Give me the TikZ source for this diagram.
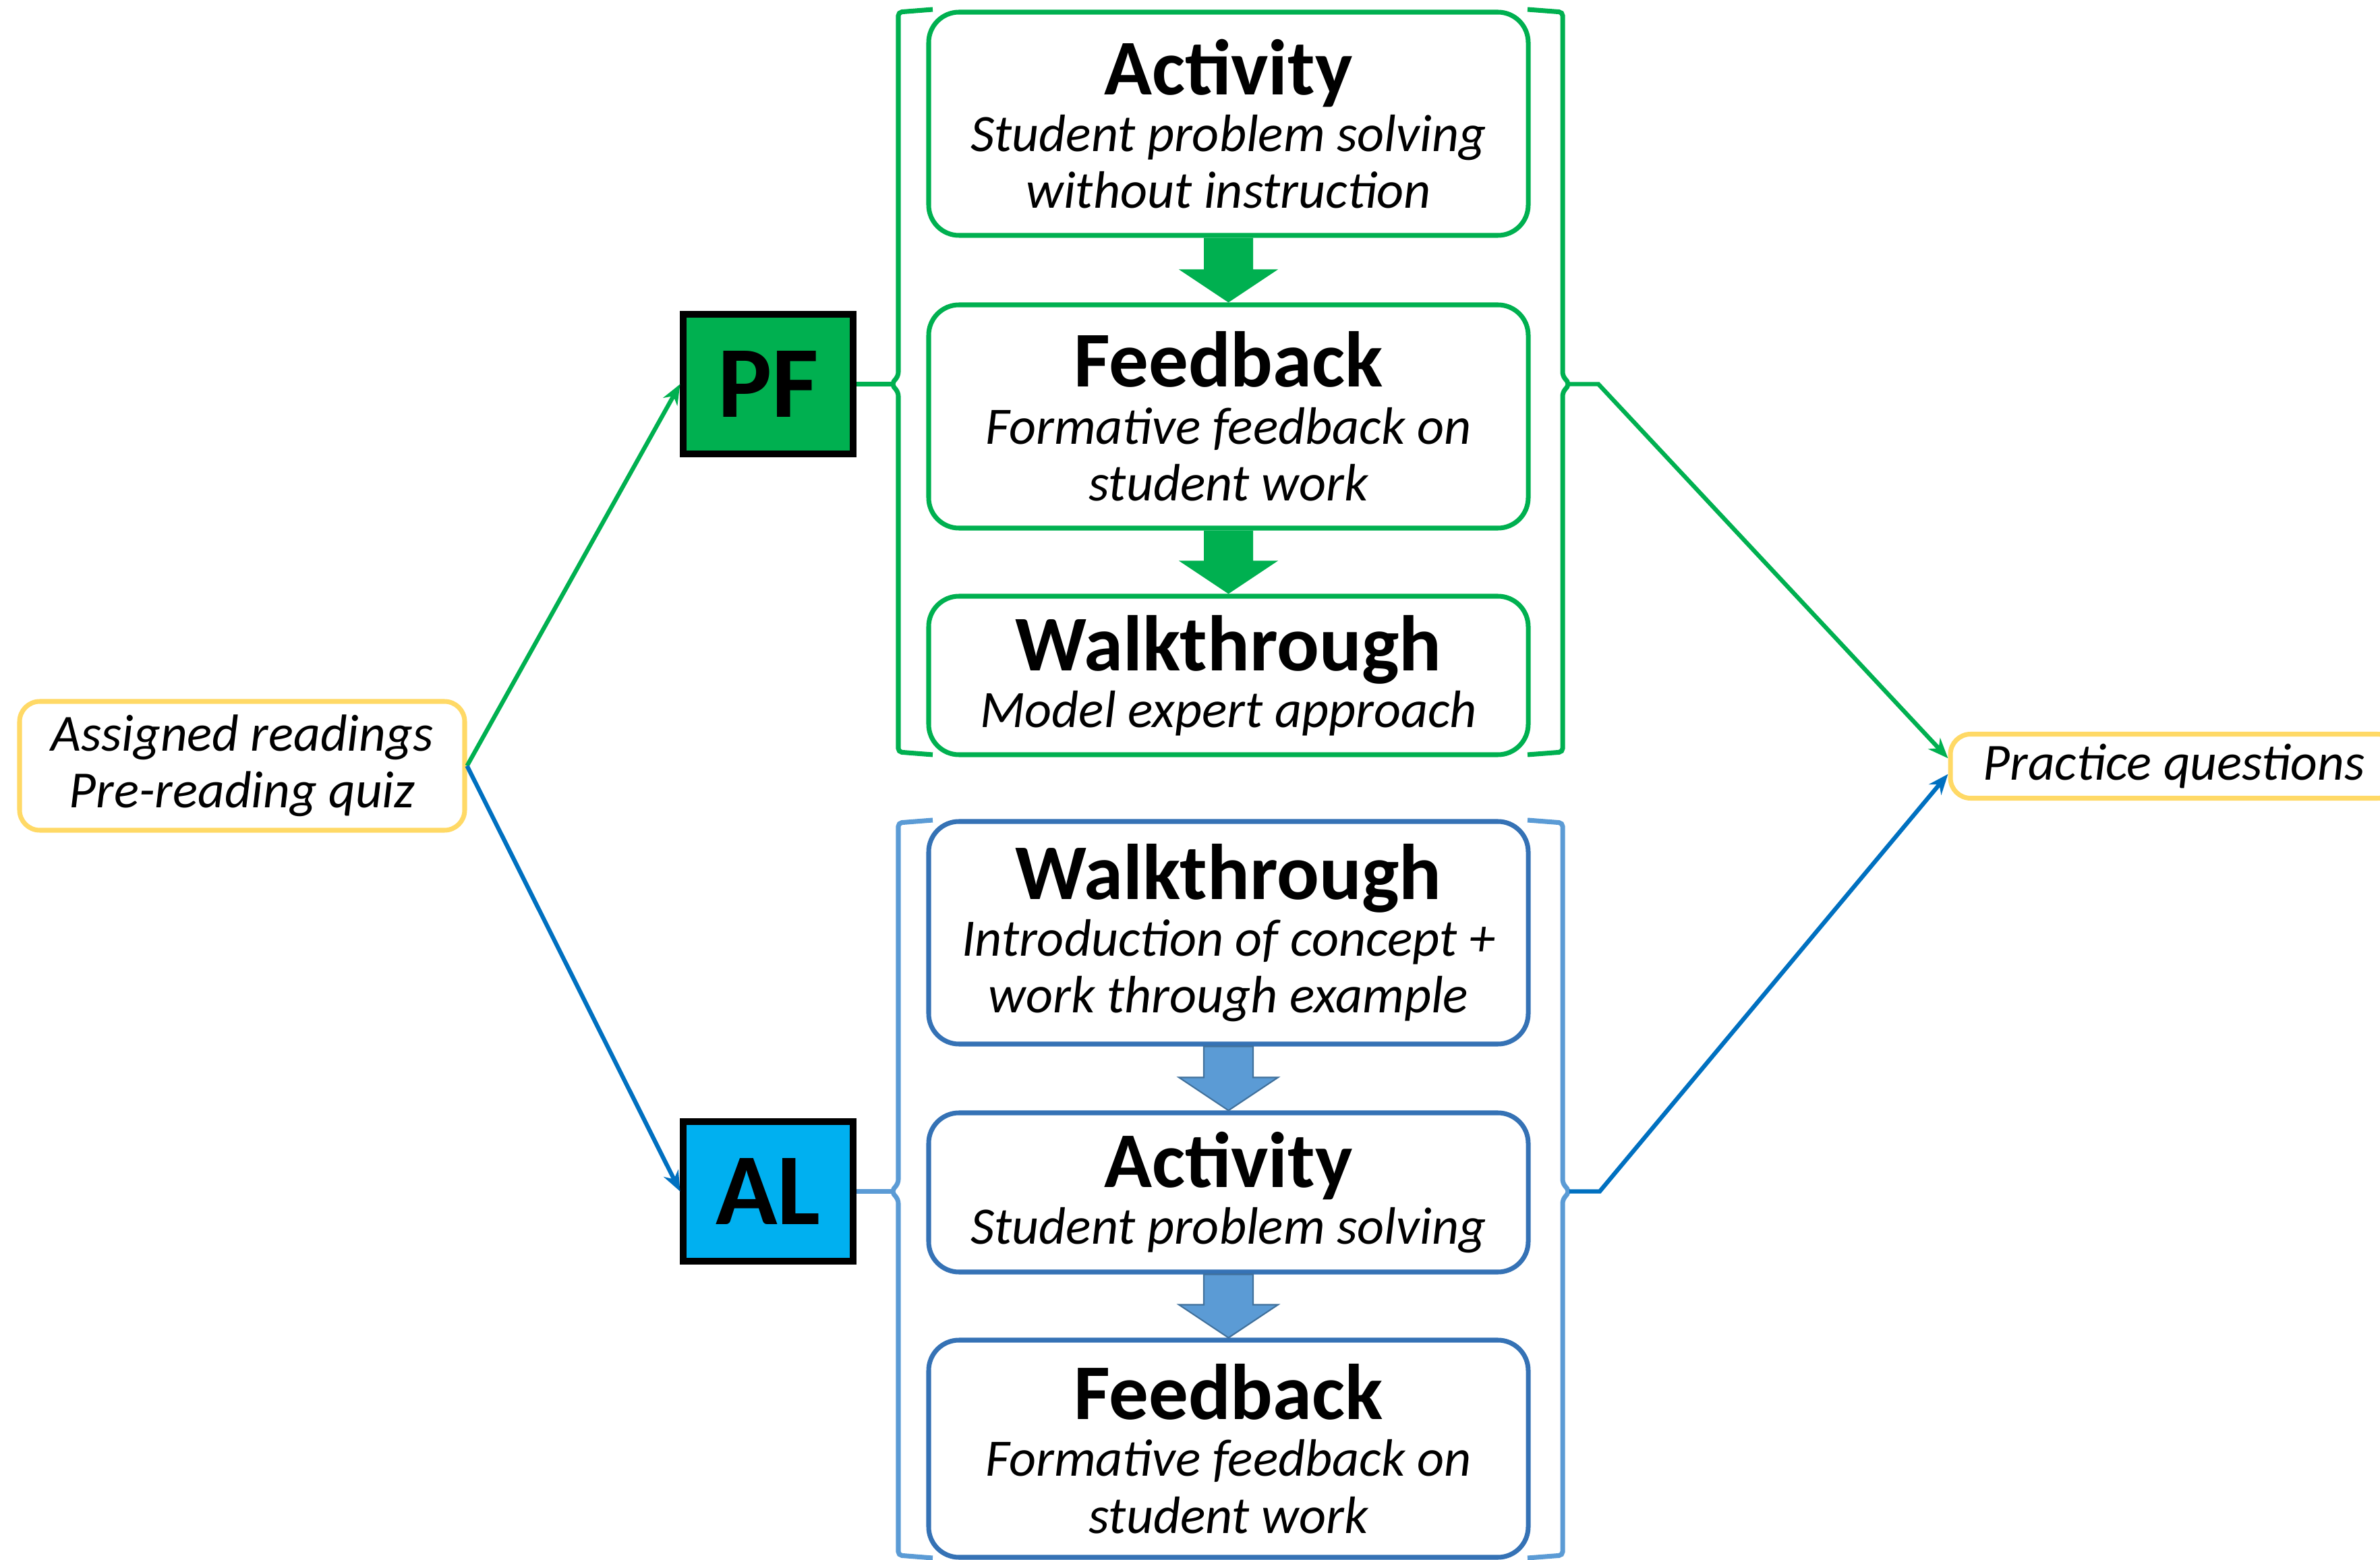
\documentclass[tikz,border=0pt]{standalone}
\usepackage{fontspec}
\setmainfont{Carlito}
\usepackage{xcolor}
\usetikzlibrary{arrows.meta,positioning,calc}

\definecolor{pfgreen}{HTML}{00B050}
\definecolor{alcyan}{HTML}{00B0F0}
\definecolor{alborder}{HTML}{3572B5}
\definecolor{albracket}{HTML}{5B9BD5}
\definecolor{alline}{HTML}{0070C0}
\definecolor{alfill}{HTML}{5B9BD5}
\definecolor{aledge}{HTML}{41719C}
\definecolor{readgold}{HTML}{FFD966}

\newcommand{\stagehead}[1]{{\upshape\bfseries\fontsize{33.3}{33}\selectfont #1}}
\newcommand{\flowarrow}[3]{%
  \path[#3] let \p1=(#1.south), \p2=(#2.north) in
    (\x1-0.365cm,\y1) -- (\x1+0.365cm,\y1) -- (\x1+0.365cm,\y2+0.49cm)
    -- (\x1+0.735cm,\y2+0.49cm) -- (\x1,\y2) -- (\x1-0.735cm,\y2+0.49cm)
    -- (\x1-0.365cm,\y2+0.49cm) -- cycle;}

\begin{document}
\begin{tikzpicture}[
    stagebox/.style={rounded corners=0.45cm, line width=2pt, minimum width=8.89cm, inner sep=0pt, align=center, font=\itshape\fontsize{22.2}{24}\selectfont},
    pfstage/.style={stagebox, draw=pfgreen},
    alstage/.style={stagebox, draw=alborder},
    tagbox/.style={draw=black, line width=2.6pt, minimum width=2.52cm, minimum height=2.07cm, font=\bfseries\fontsize{43}{43}\selectfont},
    readbox/.style={draw=readgold, line width=2pt, rounded corners=0.3cm, inner sep=0pt, align=center, font=\itshape\fontsize{22}{24}\selectfont},
    bracket/.style={line width=2pt, rounded corners=1.5pt},
    link/.style={line width=1.8pt, -{Stealth[length=0.3cm,width=0.24cm]}},
    pfarrow/.style={fill=pfgreen},
    alarrow/.style={fill=alfill, draw=aledge, line width=0.6pt}
]
    \useasboundingbox (0,0) rectangle (35.29,-23.13);

    % Readings and practice
    \node[readbox, minimum width=6.6cm, minimum height=1.91cm] (reading) at (3.59,-11.355) {Assigned readings\\Pre-reading quiz};
    \node[readbox, minimum width=6.63cm, minimum height=0.95cm] (practice) at (32.235,-11.36) {Practice questions};

    % PF sequence
    \node[tagbox, fill=pfgreen] (pf) at (11.39,-5.695) {PF};
    \node[pfstage, minimum height=3.31cm] (pfact) at (18.215,-1.835) {\stagehead{Activity}\\Student problem solving\\without instruction};
    \node[pfstage, minimum height=3.31cm] (pffb) at (18.215,-6.175) {\stagehead{Feedback}\\Formative feedback on\\student work};
    \node[pfstage, minimum height=2.35cm] (pfwalk) at (18.215,-10.015) {\stagehead{Walkthrough}\\Model expert approach};
    \flowarrow{pfact}{pffb}{pfarrow}
    \flowarrow{pffb}{pfwalk}{pfarrow}

    % PF brackets
    \draw[bracket, pfgreen] (13.83,-0.14) -- (13.32,-0.18) -- (13.32,-5.57) -- (13.22,-5.695) -- (13.32,-5.82) -- (13.32,-11.15) -- (13.83,-11.19);
    \draw[bracket, pfgreen] (22.65,-0.14) -- (23.17,-0.18) -- (23.17,-5.57) -- (23.27,-5.695) -- (23.17,-5.82) -- (23.17,-11.15) -- (22.65,-11.19);
    \coordinate (pfin) at (13.22,-5.695);
    \coordinate (pfout) at (23.27,-5.695);
    \coordinate (pfknee) at (23.70,-5.695);

    % AL sequence
    \node[tagbox, fill=alcyan] (al) at (11.39,-17.665) {AL};
    \node[alstage, minimum height=3.30cm] (alwalk) at (18.215,-13.83) {\stagehead{Walkthrough}\\Introduction of concept +\\work through example};
    \node[alstage, minimum height=2.36cm] (alact) at (18.215,-17.68) {\stagehead{Activity}\\Student problem solving};
    \node[alstage, minimum height=3.22cm] (alfb) at (18.215,-21.48) {\stagehead{Feedback}\\Formative feedback on\\student work};
    \flowarrow{alwalk}{alact}{alarrow}
    \flowarrow{alact}{alfb}{alarrow}

    % AL brackets
    \draw[bracket, albracket] (13.83,-12.16) -- (13.32,-12.20) -- (13.32,-17.54) -- (13.22,-17.665) -- (13.32,-17.79) -- (13.32,-23.06) -- (13.83,-23.10);
    \draw[bracket, albracket] (22.65,-12.16) -- (23.17,-12.20) -- (23.17,-17.54) -- (23.27,-17.665) -- (23.17,-17.79) -- (23.17,-23.06) -- (22.65,-23.10);
    \coordinate (alin) at (13.22,-17.665);
    \coordinate (alout) at (23.27,-17.665);
    \coordinate (alknee) at (23.72,-17.665);

    % Connectors
    \draw[link, pfgreen] (reading.east) -- (pf.west);
    \draw[link, alline] (reading.east) -- (al.west);
    \draw[pfgreen, line width=2pt] (pf.east) -- (pfin);
    \draw[albracket, line width=2pt] (al.east) -- (alin);
    \draw[link, pfgreen] (pfout) -- (pfknee) -- (practice.178);
    \draw[link, alline] (alout) -- (alknee) -- (practice.182);
\end{tikzpicture}
\end{document}
